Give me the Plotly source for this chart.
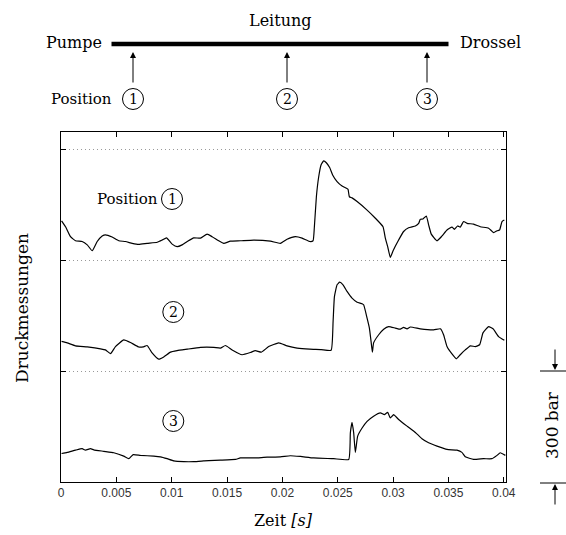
import numpy as np
import plotly.graph_objects as go

# ---------------- data (time in ms, pressure in bar) ----------------
t1_ms = [0.05,0.41,0.86,1.31,1.91,2.37,2.82,3.27,3.72,4.02,4.62,5.22,5.82,6.43,7.02,7.78,8.69,9.14,9.53,10.04,
         10.49,10.94,11.40,11.99,12.60,13.20,13.65,14.25,14.70,15.30,16.21,17.41,18.92,19.82,20.42,21.17,21.78,22.47,22.77,22.89,
         23.07,23.28,23.49,23.73,23.97,24.27,24.54,24.94,25.39,25.78,25.93,26.05,26.29,26.75,27.65,28.40,29.09,29.30,29.51,29.75,
         30.00,30.50,30.95,31.40,32.01,32.31,32.46,32.70,33.00,33.21,33.45,33.97,34.42,34.87,35.32,35.53,35.83,36.07,36.37,36.68,
         37.27,37.88,38.63,39.08,39.39,39.62,39.84,40.05]
p1_bar = [106,90,63,52,50,41,25,50,65,68,62,52,50,45,42,45,48,54,60,43,
          36,41,50,60,59,70,63,52,45,51,52,54,51,45,56,63,59,50,52,90,
          171,225,257,268,263,250,230,212,200,194,191,171,168,158,135,113,90,59,36,7,
          25,54,77,87,92,99,110,111,119,95,70,52,65,81,89,83,92,89,104,99,
          97,90,86,74,79,81,104,108]

t2_ms = [0.05,0.56,1.31,2.37,3.57,4.02,4.47,4.92,5.67,6.28,7.02,7.42,7.78,8.23,8.83,9.28,9.89,10.49,11.40,12.60,
         13.80,14.40,14.85,15.46,16.36,17.11,17.56,18.10,18.76,19.67,20.42,21.33,22.47,23.50,24.40,24.58,24.70,24.94,25.17,25.48,
         25.84,26.29,26.75,27.20,27.34,27.65,27.86,28.01,28.13,28.24,28.70,29.15,29.60,30.20,30.65,30.95,31.26,31.56,32.46,33.66,
         34.27,34.56,34.87,35.32,35.71,36.07,36.52,36.98,37.43,37.82,38.12,38.63,39.03,39.53,40.05]
p2_bar = [80,76,68,65,60,57,47,66,84,77,65,65,69,49,32,38,51,55,59,64,
          64,62,69,57,44,50,55,51,66,76,68,62,59,58,56,134,201,233,240,233,
          215,197,186,182,179,143,116,80,51,76,98,113,120,116,113,118,114,119,114,111,
          114,98,66,46,33,44,57,68,66,71,103,120,114,93,83]

t3_ms = [0.05,0.56,1.31,1.91,2.21,2.66,2.96,3.86,4.77,5.67,6.12,6.52,7.18,8.38,8.98,9.59,10.19,11.09,11.99,12.89,
         13.35,14.40,15.76,16.21,17.41,18.62,19.82,20.72,21.63,22.83,24.63,25.99,26.14,26.29,26.44,26.59,26.80,27.20,27.65,28.24,
         28.85,29.21,29.51,29.75,30.05,30.50,31.26,32.01,32.61,33.21,33.97,34.87,35.77,36.22,36.52,37.27,38.18,38.93,39.39,39.68,
         40.14]
p3_bar = [77,80,86,90,86,90,87,83,79,70,63,74,72,70,68,63,57,55,55,57,
          58,59,61,65,65,67,68,71,69,65,63,61,133,161,133,80,124,146,164,178,
          187,182,188,173,182,169,151,134,117,106,97,88,86,80,68,61,63,63,72,79,
          72]

offsets_bar = [600, 300, 0]
grid_bar = [300, 600, 900]
x_ticks = [0, 0.005, 0.01, 0.015, 0.02, 0.025, 0.03, 0.035, 0.04]
x_ticktext = ["0", "0.005", "0.01", "0.015", "0.02", "0.025", "0.03", "0.035", "0.04"]

# ---------------- figure ----------------
W, H = 566, 535
ML, MR, MT, MB = 61, 60, 132, 53
PW, PH = W - ML - MR, H - MT - MB

def px(xp):
    return (xp - ML) / PW

def py(yp):
    return (H - MB - yp) / PH

SERIF = "DejaVu Serif"
fig = go.Figure()
for t, p, off in zip([t1_ms, t2_ms, t3_ms], [p1_bar, p2_bar, p3_bar], offsets_bar):
    fig.add_trace(go.Scatter(
        x=np.array(t) / 1000.0, y=np.array(p) + off, mode="lines",
        line=dict(color="black", width=1.2, shape="spline", smoothing=0.4),
        showlegend=False, hoverinfo="skip"))

shapes = []
annotations = []

def text(x, y, s, size=16, xanchor="center", angle=0):
    annotations.append(dict(x=px(x), y=py(y), xref="paper", yref="paper", text=s,
                            showarrow=False, xanchor=xanchor, yanchor="middle",
                            textangle=angle,
                            font=dict(family=SERIF, size=size, color="black")))

def circle(x, y, num, r=10.5):
    shapes.append(dict(type="circle", xref="paper", yref="paper",
                       xsizemode="pixel", ysizemode="pixel",
                       xanchor=px(x), yanchor=py(y), x0=-r, x1=r, y0=-r, y1=r,
                       line=dict(color="black", width=1)))
    annotations.append(dict(x=px(x), y=py(y), xref="paper", yref="paper", text=str(num),
                            showarrow=False, xanchor="center", yanchor="middle",
                            font=dict(family=SERIF, size=14, color="black")))

def arrow(x, ytip, ytail):
    annotations.append(dict(x=px(x), y=py(ytip), xref="paper", yref="paper", text="",
                            showarrow=True, ax=0, ay=ytail - ytip, arrowhead=2,
                            arrowsize=1.2, arrowwidth=1, arrowcolor="black"))

def hline(x0, x1, y, w=1):
    shapes.append(dict(type="line", xref="paper", yref="paper",
                       x0=px(x0), x1=px(x1), y0=py(y), y1=py(y),
                       line=dict(color="black", width=w)))

# top schematic
hline(111.5, 448.5, 44, w=4.3)
text(280, 21, "Leitung")
text(104, 42, "Pumpe", xanchor="right")
text(458, 42, "Drossel", xanchor="left")
text(49, 99, "Position", size=15, xanchor="left")
for xc, n in [(133, 1), (287, 2), (427, 3)]:
    arrow(xc, 52, 84)
    circle(xc, 99, n)

# labels inside plot
text(127.5, 199, "Position", size=15)
circle(172, 199, 1)
circle(173.3, 312, 2)
circle(173.3, 421, 3)

# y label and 300 bar scale
text(22, 308, "Druckmessungen", size=17, angle=-90)
text(552, 425, "300 bar", size=17, angle=-90)
hline(540, 566, 371)
hline(540, 566, 483)
arrow(555, 370, 348)
arrow(555, 484, 506)

# x title
annotations.append(dict(x=px(283), y=py(520), xref="paper", yref="paper",
                        text="Zeit <i>[s]</i>", showarrow=False,
                        xanchor="center", yanchor="middle",
                        font=dict(family=SERIF, size=16, color="black")))

fig.update_layout(
    width=W, height=H,
    margin=dict(l=ML, r=MR, t=MT, b=MB, pad=0),
    paper_bgcolor="white", plot_bgcolor="white",
    font=dict(family=SERIF),
    shapes=shapes, annotations=annotations,
    xaxis=dict(range=[0, 0.0402], tickvals=x_ticks, ticktext=x_ticktext,
               ticks="inside", ticklen=5, tickcolor="black", mirror="ticks",
               showline=True, linecolor="black", linewidth=1,
               showgrid=False, zeroline=False,
               tickfont=dict(family="Liberation Sans, Arial, sans-serif", size=12, color="#333")),
    yaxis=dict(range=[0, 946], tickvals=grid_bar, showticklabels=False,
               ticks="inside", ticklen=5, tickcolor="black", mirror="ticks",
               showline=True, linecolor="black", linewidth=1,
               showgrid=True, gridcolor="#999", griddash="1px,3px", gridwidth=1,
               zeroline=False),
)

fig.write_html("out.html")
